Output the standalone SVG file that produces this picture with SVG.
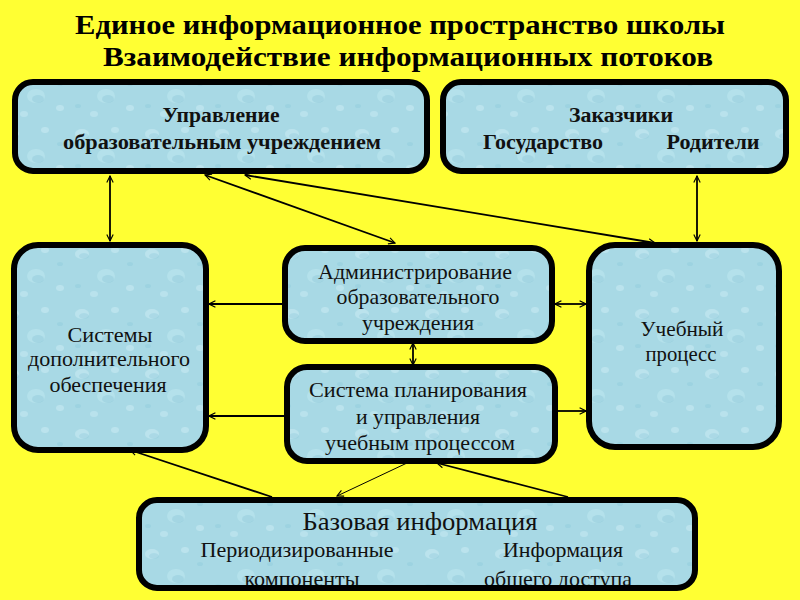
<svg xmlns="http://www.w3.org/2000/svg" width="800" height="600" viewBox="0 0 800 600">
<defs>
  <pattern id="drops" width="70" height="60" patternUnits="userSpaceOnUse">
    <rect width="70" height="60" fill="#a8d9e5"/>
    <ellipse cx="12" cy="14" rx="7" ry="5" fill="#d2f1f7" opacity="0.45"/>
    <ellipse cx="14" cy="16" rx="5" ry="3" fill="#86c6d8" opacity="0.3"/>
    <ellipse cx="45" cy="10" rx="4" ry="3" fill="#d2f1f7" opacity="0.45"/>
    <ellipse cx="36" cy="36" rx="9" ry="7" fill="#c4ebf3" opacity="0.45"/>
    <ellipse cx="38" cy="39" rx="6" ry="4" fill="#7fbfd2" opacity="0.3"/>
    <ellipse cx="60" cy="48" rx="4" ry="3" fill="#d2f1f7" opacity="0.45"/>
    <ellipse cx="8" cy="46" rx="3" ry="2" fill="#8ccbdc" opacity="0.4"/>
    <ellipse cx="60" cy="24" rx="3" ry="2" fill="#8ccbdc" opacity="0.4"/>
    <ellipse cx="24" cy="54" rx="4" ry="3" fill="#d2f1f7" opacity="0.4"/>
  </pattern>
  <marker id="ah" viewBox="0 0 10 10" refX="9" refY="5" markerWidth="8" markerHeight="8" orient="auto-start-reverse" markerUnits="userSpaceOnUse">
    <path d="M1,1 L9,5 L1,9" fill="none" stroke="#000" stroke-width="1.4"/>
  </marker>
  <clipPath id="botclip"><rect x="137" y="498" width="560" height="88"/></clipPath>
  <style>
    .box{fill:url(#drops);stroke:#000;stroke-width:6}
    .t{font-family:"Liberation Serif","Times New Roman",serif;fill:#111;text-anchor:middle}
    .b{font-weight:bold;font-size:20px}
    .r{font-size:21px}
    .title{font-family:"Liberation Serif","Times New Roman",serif;font-weight:bold;font-size:28px;fill:#000;text-anchor:middle}
    .c{stroke:#000;stroke-width:1.8;fill:none;marker-end:url(#ah)}
    .d{stroke:#000;stroke-width:1.8;fill:none;marker-start:url(#ah);marker-end:url(#ah)}
  </style>
</defs>
<rect width="800" height="600" fill="#ffff33"/>
<g id="title">
  <text class="title" x="400" y="34" textLength="650" lengthAdjust="spacingAndGlyphs">Единое информационное пространство школы</text>
  <text class="title" x="408" y="66" textLength="610" lengthAdjust="spacingAndGlyphs">Взаимодействие информационных потоков</text>
</g>
<g id="connectors">
  <line class="d" x1="110" y1="176" x2="110" y2="241"/>
  <line class="d" x1="697" y1="176" x2="697" y2="241"/>
  <line class="d" x1="205" y1="175" x2="395" y2="243"/>
  <line class="d" x1="245" y1="175" x2="655" y2="243"/>
  <line class="c" x1="284" y1="304" x2="209" y2="304"/>
  <line class="c" x1="286" y1="416" x2="209" y2="416"/>
  <line class="d" x1="555" y1="304" x2="586" y2="304"/>
  <line class="c" x1="558" y1="411" x2="586" y2="411"/>
  <line class="d" x1="413" y1="343" x2="413" y2="365"/>
  <line class="c" x1="272" y1="497" x2="130" y2="450"/>
  <line x1="407" y1="463" x2="337" y2="496" stroke="#000" stroke-width="1" marker-end="url(#ah)"/>
  <line class="c" x1="568" y1="497" x2="437" y2="463"/>
</g>
<g id="node-upravlenie">
  <rect class="box" x="15" y="82" width="412" height="89" rx="18"/>
  <text class="t b" x="221" y="122" textLength="117" lengthAdjust="spacingAndGlyphs">Управление</text>
  <text class="t b" x="222" y="149" textLength="318" lengthAdjust="spacingAndGlyphs">образовательным учреждением</text>
</g>
<g id="node-zakazchiki">
  <rect class="box" x="443" y="82" width="343" height="89" rx="18"/>
  <text class="t b" x="621" y="122" textLength="104" lengthAdjust="spacingAndGlyphs">Заказчики</text>
  <text class="t b" x="543" y="149" textLength="120" lengthAdjust="spacingAndGlyphs">Государство</text>
  <text class="t b" x="713" y="149" textLength="93" lengthAdjust="spacingAndGlyphs">Родители</text>
</g>
<g id="node-sistemy">
  <rect class="box" x="14" y="245" width="192" height="205" rx="24"/>
  <text class="t r" x="110" y="342" textLength="85" lengthAdjust="spacingAndGlyphs">Системы</text>
  <text class="t r" x="109" y="366" textLength="162" lengthAdjust="spacingAndGlyphs">дополнительного</text>
  <text class="t r" x="108" y="392" textLength="117" lengthAdjust="spacingAndGlyphs">обеспечения</text>
</g>
<g id="node-admin">
  <rect class="box" x="285" y="248" width="267" height="93" rx="20"/>
  <text class="t r" x="415" y="279" textLength="194" lengthAdjust="spacingAndGlyphs">Администрирование</text>
  <text class="t r" x="418" y="304" textLength="163" lengthAdjust="spacingAndGlyphs">образовательного</text>
  <text class="t r" x="418" y="330" textLength="112" lengthAdjust="spacingAndGlyphs">учреждения</text>
</g>
<g id="node-planirovanie">
  <rect class="box" x="287" y="367" width="268" height="94" rx="20"/>
  <text class="t r" x="418" y="397" textLength="218" lengthAdjust="spacingAndGlyphs">Система планирования</text>
  <text class="t r" x="418" y="424" textLength="124" lengthAdjust="spacingAndGlyphs">и управления</text>
  <text class="t r" x="420" y="450" textLength="190" lengthAdjust="spacingAndGlyphs">учебным процессом</text>
</g>
<g id="node-uchebny">
  <rect class="box" x="589" y="245" width="190" height="202" rx="26"/>
  <text class="t r" x="682" y="336" textLength="83" lengthAdjust="spacingAndGlyphs">Учебный</text>
  <text class="t r" x="681" y="361" textLength="71" lengthAdjust="spacingAndGlyphs">процесс</text>
</g>
<g id="node-bazovaya">
  <rect x="139" y="500" width="556" height="88" rx="18" fill="url(#drops)"/>
  <g clip-path="url(#botclip)">
    <text class="t" x="420" y="530" font-size="26" textLength="235" lengthAdjust="spacingAndGlyphs">Базовая информация</text>
    <text class="t r" x="297" y="557" textLength="193" lengthAdjust="spacingAndGlyphs">Периодизированные</text>
    <text class="t r" x="563" y="557" textLength="120" lengthAdjust="spacingAndGlyphs">Информация</text>
    <text class="t r" x="302" y="586" textLength="115" lengthAdjust="spacingAndGlyphs">компоненты</text>
    <text class="t r" x="558" y="586" textLength="148" lengthAdjust="spacingAndGlyphs">общего доступа</text>
  </g>
  <rect x="139" y="500" width="556" height="88" rx="18" fill="none" stroke="#000" stroke-width="6"/>
</g>
</svg>
